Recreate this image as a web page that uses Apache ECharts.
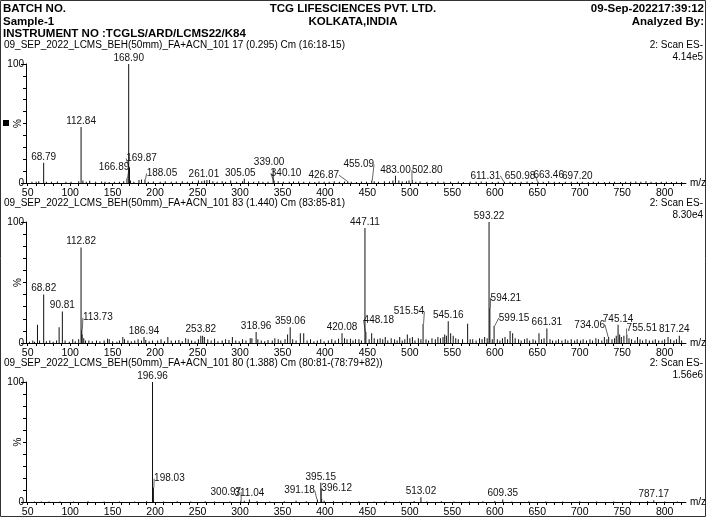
<!DOCTYPE html>
<html>
<head>
<meta charset="utf-8">
<script src="https://cdn.jsdelivr.net/npm/echarts@6/dist/echarts.min.js"></script>
<style>
html, body { margin: 0; padding: 0; background: #fff; }
#main { width: 707px; height: 518px; }
</style>
</head>
<body>
<div id="main"></div>
<script>
// labelled peaks [m/z, relative intensity %]
const peaks1 = [[68.79, 17], [112.84, 47], [166.89, 4], [168.90, 100], [169.87, 13], [188.05, 3],
  [261.01, 2.5], [305.05, 3.5], [339.00, 12], [340.10, 2], [426.87, 1.5], [455.09, 2],
  [483.00, 6], [502.80, 2.5], [611.31, 1], [650.98, 1], [663.46, 1.5], [697.20, 1]]
// small unlabelled peaks
const noise1 = [[55, 1], [60, 1], [63, 1.5], [72, 1], [78, 1], [85, 1.2], [95, 1], [101, 1], [110, 1.5],
  [115, 2], [119, 1], [123, 1.8], [130, 1], [137, 1.2], [141, 1], [146, 0.8], [152, 1], [158, 1], [163, 1.5],
  [171, 2], [175, 1], [181, 2.5], [184, 3], [192, 1], [198, 1.2], [206, 1], [212, 1.5], [219, 1], [225, 1.2],
  [232, 1.5], [238, 1], [244, 1.2], [251, 2], [255, 1.5], [258, 2], [264, 2.5], [268, 1.5], [273, 1],
  [279, 1.5], [283, 1], [289, 2], [296, 1], [303, 1.5], [310, 1.2], [316, 1], [322, 1.5], [327, 1], [333, 1],
  [345, 1.5], [351, 1], [358, 1], [363, 1.2], [369, 1.2], [375, 1], [382, 1], [388, 0.8], [393, 1.2], [399, 1],
  [405, 1], [411, 1.5], [417, 1], [423, 1.2], [431, 1], [437, 0.8], [443, 1.2], [449, 1], [458, 1.5], [463, 1],
  [470, 1.5], [476, 1.2], [480, 2], [487, 2], [491, 1.2], [496, 1.5], [499, 2], [507, 1], [512, 1.2], [520, 1],
  [526, 0.8], [533, 1.2], [540, 1], [548, 1], [557, 1.2], [563, 0.8], [571, 1], [578, 1], [584, 1.2], [590, 1],
  [597, 0.8], [604, 1], [618, 1], [624, 0.8], [631, 1], [638, 1.2], [644, 0.8], [657, 1], [670, 1], [676, 0.8],
  [683, 1], [690, 1], [703, 1], [710, 0.8], [716, 1], [722, 1], [729, 0.8], [735, 1], [741, 1], [748, 0.8],
  [754, 1], [760, 1], [766, 1.2], [772, 1], [778, 1.5], [784, 1], [790, 0.8], [796, 1], [802, 1], [808, 0.8],
  [814, 1], [820, 0.8]]

const peaks2 = [[68.82, 40], [90.81, 26], [112.82, 79], [113.73, 11], [186.94, 5], [253.82, 6], [318.96, 9],
  [359.06, 13], [420.08, 8], [447.11, 95], [448.18, 9], [515.54, 16], [545.16, 18], [593.22, 100],
  [594.21, 29], [599.15, 14], [661.31, 12], [734.06, 5], [745.14, 15], [755.51, 7], [817.24, 6]]
const noise2 = [[52, 1], [56, 2], [58, 1], [61.5, 15], [64, 2], [72, 1.5], [76, 2], [80, 1], [84, 2], [87, 13],
  [94, 2], [99, 1], [103, 3], [106, 1.5], [110, 3], [114, 7], [116, 4], [118, 2], [122, 2], [126, 1.5], [131, 2],
  [135, 1.5], [140, 2], [144, 3.5], [146, 3], [150, 1.5], [155, 1], [158, 2], [162, 5], [164, 3], [168, 2],
  [172, 1.5], [176, 2], [180, 3], [184, 2], [189, 2.5], [193, 1.5], [197, 2], [203, 2], [207, 3], [211, 1.5],
  [215, 5], [219, 2], [224, 2], [228, 2.5], [232, 1.5], [236, 4], [239, 3], [243, 2], [247, 1.5], [251, 3],
  [256, 6], [258, 5], [262, 3], [266, 2], [270, 3.5], [274, 1.5], [279, 2], [283, 3], [287, 2.5], [291, 5],
  [295, 2], [299, 1.5], [303, 3], [307, 2], [312, 4], [314, 4], [321, 3], [325, 2], [329, 1.5], [333, 2.5],
  [338, 2], [341, 4], [345, 3], [348, 2], [353, 3], [356, 7], [362, 3], [366, 2], [371, 8], [375, 8], [379, 2],
  [383, 3], [387, 1.5], [391, 2], [395, 3], [399, 1.5], [404, 2], [408, 3], [412, 2], [416, 3.5], [423, 4],
  [426, 3], [430, 3.5], [433, 2], [436, 3], [440, 3], [443, 2], [452, 3], [455, 8], [458, 4], [462, 3], [465, 4],
  [468, 3], [471, 5], [474, 2], [478, 4], [482, 3], [485, 2], [488, 5], [491, 2], [494, 3], [497, 7], [500, 4],
  [503, 5], [506, 2], [510, 4], [513, 3], [519, 3], [522, 2], [526, 4], [530, 3], [533, 5], [536, 4], [539, 5],
  [541, 7], [543, 6], [548, 8], [551, 6], [554, 4], [557, 3], [562, 3], [568, 16], [571, 3], [574, 3],
  [578, 2], [582, 4], [585, 3], [588, 5], [591, 4], [597, 3], [603, 3], [606, 2], [609, 4], [612, 5], [615, 3],
  [618, 10], [621, 8], [624, 4], [628, 3], [631, 2], [635, 3], [638, 4], [641, 2], [645, 3], [648, 2], [652, 8],
  [655, 3], [658, 4], [665, 3], [668, 2], [672, 2], [675, 3], [679, 2], [683, 3], [686, 2], [690, 3], [694, 2],
  [697, 3], [701, 2], [704, 3], [708, 2], [712, 3], [715, 2], [719, 4], [722, 3], [726, 2], [729, 5], [732, 3],
  [738, 3], [741, 4], [743, 6], [747, 7], [749, 5], [752, 6], [758, 4], [761, 3], [765, 2], [768, 5], [771, 3],
  [774, 2], [778, 3], [782, 2], [786, 2], [789, 3], [793, 2], [797, 2], [800, 3], [804, 5], [807, 3], [811, 2],
  [814, 3], [820, 2]]

const peaks3 = [[196.96, 100], [198.03, 12], [300.97, 1], [311.04, 2], [391.18, 2], [395.15, 16],
  [396.12, 3], [513.02, 4], [609.35, 2], [787.17, 1.5]]
const noise3 = [[58, 0.5], [66, 0.5], [75, 0.4], [88, 0.5], [104, 0.5], [121, 0.6], [140, 0.4], [158, 0.5],
  [176, 0.5], [190, 0.6], [210, 0.5], [226, 0.6], [242, 0.5], [259, 0.6], [270, 0.5], [288, 0.5], [305, 1],
  [320, 0.8], [335, 0.5], [352, 0.6], [366, 1], [378, 0.6], [399, 1], [410, 0.6], [425, 0.5], [440, 0.6],
  [458, 0.5], [472, 0.6], [488, 0.5], [505, 0.8], [520, 0.5], [537, 0.6], [552, 0.5], [570, 0.5], [586, 0.6],
  [600, 0.8], [620, 0.5], [640, 0.6], [660, 0.5], [680, 0.5], [700, 0.6], [720, 0.5], [740, 0.5], [760, 0.6],
  [780, 0.8], [800, 0.5], [815, 0.5]]

const tickLabels = [50, 100, 150, 200, 250, 300, 350, 400, 450, 500, 550, 600, 650, 700, 750, 800]
const minorTicks = [50, 60, 70, 80, 90, 100, 110, 120, 130, 140, 150, 160, 170, 180, 190, 200, 210, 220, 230,
  240, 250, 260, 270, 280, 290, 300, 310, 320, 330, 340, 350, 360, 370, 380, 390, 400, 410, 420, 430, 440, 450,
  460, 470, 480, 490, 500, 510, 520, 530, 540, 550, 560, 570, 580, 590, 600, 610, 620, 630, 640, 650, 660, 670,
  680, 690, 700, 710, 720, 730, 740, 750, 760, 770, 780, 790, 800, 810, 820]

const titles = ['09_SEP_2022_LCMS_BEH(50mm)_FA+ACN_101 17 (0.295) Cm (16:18-15)',
  '09_SEP_2022_LCMS_BEH(50mm)_FA+ACN_101 83 (1.440) Cm (83:85-81)',
  '09_SEP_2022_LCMS_BEH(50mm)_FA+ACN_101 80 (1.388) Cm (80:81-(78:79+82))']
const scaleTexts = ['4.14e5', '8.30e4', '1.56e6']

// label nudges (px) for crowded peak labels, keyed by label text
const labelShift = [
  { '166.89': [-13, -5], '169.87': [12, -3], '188.05': [17, 0], '261.01': [-3, 0], '305.05': [-4, 0],
    '339.00': [-4, 0], '340.10': [12, -1], '426.87': [-24, 0], '455.09': [-13, -10], '483.00': [0, 0],
    '502.80': [15, -4], '611.31': [-19, 0], '650.98': [-18, 0] },
  { '113.73': [16, -6], '448.18': [13, -6], '515.54': [-14, -6], '594.21': [16, -4], '599.15': [20, -2],
    '734.06': [-19, -6], '755.51': [15, 0], '817.24': [-5, 0] },
  { '198.03': [16, -3], '300.97': [-15, -3], '391.18': [-18, -3], '396.12': [15, -4] }
]

const FONT = 'Liberation Sans, Arial, sans-serif'
const tops = [64, 222, 382]
const heights = [119, 121, 120]

const chart = echarts.init(document.getElementById('main'))

function buildData(peaks, noise, shifts) {
  const data = noise.map(d => ({ value: d }))
  peaks.forEach(d => {
    const s = shifts[d[0].toFixed(2)]
    const lead = s && Math.abs(s[0]) > 8
    data.push({ value: d, label: { show: true }, labelLine: { show: !!lead } })
  })
  return data
}

const allPeaks = [peaks1, peaks2, peaks3]
const allNoise = [noise1, noise2, noise3]

const grids = []
const xAxes = []
const yAxes = []
const series = []
const graphics = []

for (let i = 0; i < 3; i++) {
  grids.push({ left: 26, width: 664, top: tops[i], height: heights[i] })
  xAxes.push({
    type: 'value', gridIndex: i, min: 48, max: 825,
    name: 'm/z', nameLocation: 'end', nameGap: 4,
    nameTextStyle: { color: '#000', fontSize: 10, fontFamily: FONT },
    axisLine: { lineStyle: { color: '#000', width: 1 } },
    axisTick: { customValues: minorTicks, length: 3, lineStyle: { color: '#000' } },
    axisLabel: { customValues: tickLabels, color: '#000', fontSize: 10.5, fontFamily: FONT, margin: 5 },
    splitLine: { show: false }
  })
  yAxes.push({
    type: 'value', gridIndex: i, min: 0, max: 100, interval: 100,
    axisLine: { show: true, lineStyle: { color: '#000', width: 1 } },
    axisTick: { show: true, length: 5, lineStyle: { color: '#000' } },
    minorTick: { show: true, splitNumber: 10, length: 3, lineStyle: { color: '#000' } },
    axisLabel: { color: '#000', fontSize: 10, fontFamily: FONT, margin: 2 },
    splitLine: { show: false }
  })
  const shifts = labelShift[i]
  const data = buildData(allPeaks[i], allNoise[i], shifts)
  series.push({
    type: 'bar', xAxisIndex: i, yAxisIndex: i, barWidth: 1,
    data: data,
    itemStyle: { color: '#111' },
    label: {
      show: false, position: 'top', distance: 1, color: '#111', fontSize: 10, fontFamily: FONT,
      formatter: p => p.value[0].toFixed(2)
    },
    labelLine: { show: false, lineStyle: { color: '#222', width: 0.7 } },
    labelLayout: params => {
      const d = data[params.dataIndex]
      const s = shifts[d.value[0].toFixed(2)]
      if (!s) return {}
      return { dx: s[0], dy: s[1] }
    }
  })
  const ty = tops[i] - 18
  graphics.push({ type: 'text', left: 4, top: ty - 6,
    style: { text: titles[i], font: '10px ' + FONT, fill: '#000' } })
  graphics.push({ type: 'text', right: 4, top: ty - 6,
    style: { text: '2: Scan ES-', font: '10px ' + FONT, fill: '#000' } })
  graphics.push({ type: 'text', right: 4, top: ty + 6,
    style: { text: scaleTexts[i], font: '10px ' + FONT, fill: '#000' } })
  graphics.push({ type: 'text', x: 18, y: tops[i] + heights[i] / 2, rotation: Math.PI / 2,
    style: { text: '%', font: '10px ' + FONT, fill: '#000', align: 'center', verticalAlign: 'middle' } })
}

graphics.push(
  { type: 'rect', shape: { x: 0.5, y: 0.5, width: 705, height: 516 }, style: { fill: 'none', stroke: '#333', lineWidth: 1 } },
  { type: 'rect', shape: { x: 3, y: 120, width: 6, height: 6 }, style: { fill: '#000' } },
  { type: 'text', left: 3, top: 3, style: { text: 'BATCH NO.', font: 'bold 11.5px ' + FONT, fill: '#000' } },
  { type: 'text', left: 3, top: 16, style: { text: 'Sample-1', font: 'bold 11.5px ' + FONT, fill: '#000' } },
  { type: 'text', left: 3, top: 28, style: { text: 'INSTRUMENT NO :TCGLS/ARD/LCMS22/K84', font: 'bold 11.5px ' + FONT, fill: '#000' } },
  { type: 'text', x: 353, y: 3, style: { text: 'TCG LIFESCIENCES PVT. LTD.', font: 'bold 11.5px ' + FONT, fill: '#000', align: 'center' } },
  { type: 'text', x: 353, y: 16, style: { text: 'KOLKATA,INDIA', font: 'bold 11.5px ' + FONT, fill: '#000', align: 'center' } },
  { type: 'text', right: 3, top: 3, style: { text: '09-Sep-202217:39:12', font: 'bold 11.5px ' + FONT, fill: '#000' } },
  { type: 'text', right: 3, top: 16, style: { text: 'Analyzed By:', font: 'bold 11.5px ' + FONT, fill: '#000' } }
)

chart.setOption({
  animation: false,
  grid: grids,
  xAxis: xAxes,
  yAxis: yAxes,
  series: series,
  graphic: graphics
})
</script>
</body>
</html>
